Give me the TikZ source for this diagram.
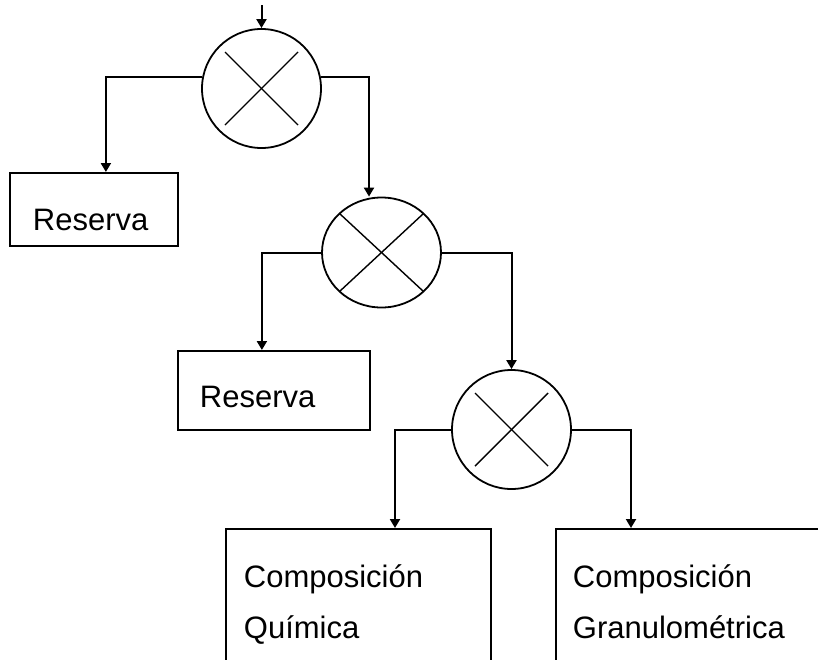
\documentclass[tikz,border=0pt]{standalone}
\usepackage{fontspec}
\setmainfont{Liberation Sans}
\usetikzlibrary{positioning,arrows.meta,shapes.geometric}

\begin{document}
\begin{tikzpicture}[x=1pt,y=-1pt,
  >={Triangle[length=9pt,width=10pt]},
  flow/.style={->, line width=2pt},
  mixer/.style={circle, draw, line width=1.8pt, inner sep=0pt, minimum size=119pt},
  cross/.style={line width=1.4pt},
  box/.style={draw, line width=1.8pt, anchor=north west, align=left, inner ysep=0pt,
    font=\fontsize{31}{51}\selectfont}]
\path[use as bounding box, clip] (0,0) rectangle (818,659);
\coordinate (node_in) at (261.5,5);
\node[mixer] (node_mix_1) [] at (261.5,88.5) {};
\draw[cross] ([shift={(-36.5,-36.5)}]node_mix_1.center) -- ([shift={(36.5,36.5)}]node_mix_1.center);
\draw[cross] ([shift={(-36.5,36.5)}]node_mix_1.center) -- ([shift={(36.5,-36.5)}]node_mix_1.center);
\draw[flow] (node_in) -- (node_mix_1.north);
\node[box, inner xsep=23pt, text width=122pt, text height=58pt, text depth=15pt] (node_res_1) [] at (9,172) {Reserva};
\draw[flow] (node_mix_1.169) -| ([xshift=12pt]node_res_1.north);
\node[mixer, ellipse, minimum width=119pt, minimum height=110pt] (node_mix_2) [] at (381.5,252.5) {};
\draw[cross] ([shift={(-42,-39)}]node_mix_2.center) -- ([shift={(42,39)}]node_mix_2.center);
\draw[cross] ([shift={(-42,39)}]node_mix_2.center) -- ([shift={(42,-39)}]node_mix_2.center);
\draw[flow] (node_mix_1.11) -| ([xshift=-12.5pt]node_mix_2.north);
\node[box, inner xsep=22pt, text width=148pt, text height=57pt, text depth=22pt] (node_res_2) [] at (177,350) {Reserva};
\draw[flow] (node_mix_2.west) -| ([xshift=-12pt]node_res_2.north);
\node[mixer] (node_mix_3) [] at (511.5,429.5) {};
\draw[cross] ([shift={(-36.5,-36.5)}]node_mix_3.center) -- ([shift={(36.5,36.5)}]node_mix_3.center);
\draw[cross] ([shift={(-36.5,36.5)}]node_mix_3.center) -- ([shift={(36.5,-36.5)}]node_mix_3.center);
\draw[flow] (node_mix_2.east) -| (node_mix_3.north);
\node[box, inner xsep=18pt, text width=229pt, text height=59pt, text depth=120pt] (node_comp_1) [] at (225,528) {Composición\\Química};
\draw[flow] (node_mix_3.west) -| ([xshift=170pt]node_comp_1.north west);
\node[box, inner xsep=17pt, text width=266pt, text height=59pt, text depth=120pt] (node_comp_2) [] at (555,528) {Composición\\Granulométrica};
\draw[flow] (node_mix_3.east) -| ([xshift=76pt]node_comp_2.north west);
\end{tikzpicture}
\end{document}
